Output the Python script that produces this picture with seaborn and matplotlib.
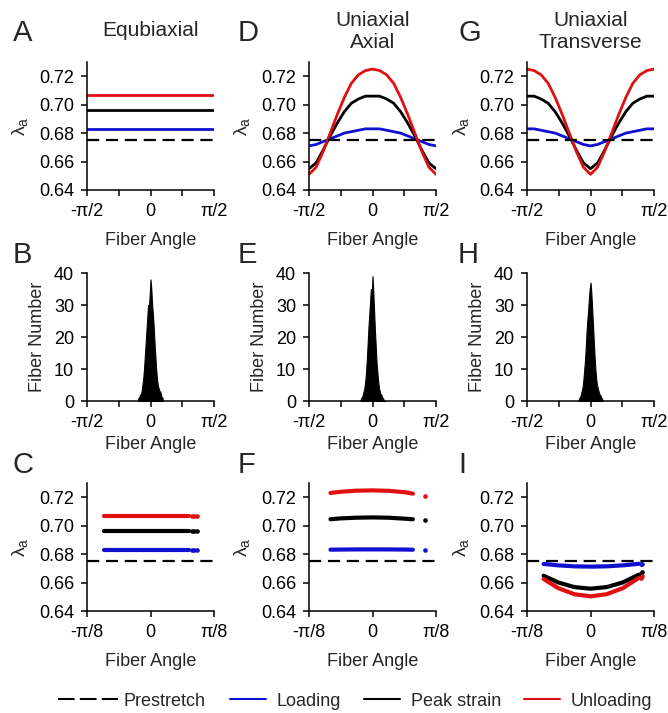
import numpy as np
import pandas as pd
import matplotlib
matplotlib.use('Agg')
import matplotlib.pyplot as plt
from matplotlib.lines import Line2D
import seaborn as sns

# ---- data ----
# row 1: fiber stretch vs fiber angle (degrees)
angle_deg = [-90, -80, -70, -60, -50, -40, -30, -20, -10, 0,
             10, 20, 30, 40, 50, 60, 70, 80, 90]

prestretch = 0.675

# A: equibiaxial (constant)
eq_loading = 0.683
eq_peak = 0.696
eq_unloading = 0.707

# D: uniaxial axial
ax_loading = [0.671, 0.672, 0.674, 0.676, 0.678, 0.680, 0.681, 0.682, 0.683, 0.683,
              0.683, 0.682, 0.681, 0.680, 0.678, 0.676, 0.674, 0.672, 0.671]
ax_peak = [0.655, 0.659, 0.668, 0.678, 0.687, 0.695, 0.701, 0.704, 0.706, 0.706,
           0.706, 0.704, 0.701, 0.695, 0.687, 0.678, 0.668, 0.659, 0.655]
ax_unloading = [0.651, 0.656, 0.667, 0.680, 0.693, 0.705, 0.715, 0.721, 0.724, 0.725,
                0.724, 0.721, 0.715, 0.705, 0.693, 0.680, 0.667, 0.656, 0.651]

# G: uniaxial transverse
tr_loading = [0.683, 0.683, 0.682, 0.681, 0.680, 0.678, 0.676, 0.674, 0.672, 0.671,
              0.672, 0.674, 0.676, 0.678, 0.680, 0.681, 0.682, 0.683, 0.683]
tr_peak = [0.706, 0.706, 0.704, 0.701, 0.695, 0.687, 0.678, 0.668, 0.659, 0.655,
           0.659, 0.668, 0.678, 0.687, 0.695, 0.701, 0.704, 0.706, 0.706]
tr_unloading = [0.725, 0.724, 0.721, 0.715, 0.705, 0.693, 0.680, 0.667, 0.656, 0.651,
                0.656, 0.667, 0.680, 0.693, 0.705, 0.715, 0.721, 0.724, 0.725]

# row 2: fiber angle histograms (bin centres in rad, counts)
fiber_bins = [-0.30, -0.28, -0.26, -0.24, -0.22, -0.20, -0.18, -0.16, -0.14, -0.12,
              -0.10, -0.08, -0.06, -0.04, -0.02, 0.00, 0.02, 0.04, 0.06, 0.08,
              0.10, 0.12, 0.14, 0.16, 0.18, 0.20, 0.22, 0.24, 0.26, 0.28, 0.30]
counts_b = [1, 1, 2, 2, 3, 5, 7, 10, 14, 18, 22, 26, 30, 29, 33, 38,
            35, 30, 27, 23, 18, 14, 10, 7, 5, 4, 3, 3, 2, 1, 1]
counts_e = [0, 1, 1, 2, 3, 4, 6, 9, 13, 18, 23, 27, 31, 35, 33, 39,
            34, 28, 22, 17, 12, 9, 6, 4, 3, 2, 2, 1, 1, 0, 0]
counts_h = [0, 1, 1, 2, 3, 4, 6, 9, 12, 16, 21, 25, 28, 32, 35, 37,
            34, 29, 24, 19, 14, 10, 7, 5, 4, 3, 2, 2, 1, 1, 0]

# row 3: stretch of the actual fibers (angle in rad)
c_angle = [-0.29, -0.20, -0.10, 0.00, 0.10, 0.20, 0.24]
c_tail = [0.258, 0.272, 0.286]
f_angle = [-0.26, -0.20, -0.10, 0.00, 0.10, 0.20, 0.25]
f_tail = [0.327]
f_loading = [0.6831, 0.6832, 0.6833, 0.6833, 0.6833, 0.6832, 0.6831]
f_peak = [0.7045, 0.7051, 0.7056, 0.7058, 0.7056, 0.7049, 0.7045]
f_unloading = [0.7230, 0.7238, 0.7246, 0.7248, 0.7245, 0.7235, 0.7225]
f_tail_vals = [0.6826, 0.7038, 0.7207]
i_angle = [-0.29, -0.20, -0.10, 0.00, 0.10, 0.20, 0.30]
i_tail = [0.315, 0.318]
i_loading = [0.6731, 0.6721, 0.6714, 0.6712, 0.6714, 0.6721, 0.6732]
i_peak = [0.6648, 0.6601, 0.6568, 0.6557, 0.6568, 0.6601, 0.6656]
i_unloading = [0.6625, 0.6561, 0.6518, 0.6503, 0.6518, 0.6561, 0.6633]
i_tail_loading = [0.6732, 0.6733]
i_tail_peak = [0.6660, 0.6672]
i_tail_unloading = [0.6632, 0.6645]

titles = ['Equbiaxial', 'Uniaxial\nAxial', 'Uniaxial\nTransverse']
letters = [['A', 'B', 'C'], ['D', 'E', 'F'], ['G', 'H', 'I']]
BLUE, BLACK, RED = '#1010d0', 'black', '#e01010'

sns.set_style('ticks')
plt.rcParams['font.family'] = ['Liberation Sans', 'DejaVu Sans']
plt.rcParams['mathtext.fontset'] = 'custom'
plt.rcParams['mathtext.rm'] = 'Liberation Sans'
plt.rcParams['mathtext.it'] = 'Liberation Sans:italic'

fig = plt.figure(figsize=(6.68, 7.13), dpi=100)

col_x = [87, 309, 527]
row_top = [62, 273, 483]
W, H = 127, 128


def add_ax(r, c):
    return fig.add_axes([col_x[c] / 668, 1 - (row_top[r] + H) / 713, W / 668, H / 713])


def style(ax, row):
    sns.despine(ax=ax)
    for s in ['left', 'bottom']:
        ax.spines[s].set_linewidth(1.1)
        ax.spines[s].set_color('black')
    ax.tick_params(axis='both', direction='out', length=4.3, width=1.1,
                   labelsize=13, color='black', labelcolor='black')
    ax.tick_params(axis='x', pad=5)
    ax.tick_params(axis='y', pad=5)
    if row < 2:
        ax.set_xlim(-np.pi / 2, np.pi / 2)
        ax.set_xticks([-np.pi / 2, -np.pi / 4, 0, np.pi / 4, np.pi / 2])
        ax.set_xticklabels(['-π/2', '', '0', '', 'π/2'])
    else:
        ax.set_xlim(-np.pi / 8, np.pi / 8)
        ax.set_xticks([-np.pi / 8, 0, np.pi / 8])
        ax.set_xticklabels(['-π/8', '0', 'π/8'])
    if row == 1:
        ax.set_ylim(0, 40)
        ax.set_yticks([0, 10, 20, 30, 40])
        ax.set_ylabel('Fiber Number', fontsize=13, labelpad=6)
        ax.set_xlabel('Fiber Angle', fontsize=13, labelpad=4)
    else:
        ax.set_ylim(0.64, 0.73)
        ax.set_yticks([0.64, 0.66, 0.68, 0.70, 0.72])
        ax.set_yticklabels(['0.64', '0.66', '0.68', '0.70', '0.72'])
        ax.set_ylabel(r'$\mathregular{\lambda_a}$', fontsize=14, labelpad=6)
        ax.set_xlabel('Fiber Angle', fontsize=13, labelpad=9)


theta = np.deg2rad(angle_deg)
dash = (0, (5.5, 3))

# ---- row 1 ----
row1 = [None,
        (ax_loading, ax_peak, ax_unloading),
        (tr_loading, tr_peak, tr_unloading)]
for c in range(3):
    ax = add_ax(0, c)
    if c == 0:
        ax.axhline(eq_loading, color=BLUE, lw=2)
        ax.axhline(eq_peak, color=BLACK, lw=2)
        ax.axhline(eq_unloading, color=RED, lw=2)
    else:
        for vals, col in zip(row1[c], [BLUE, BLACK, RED]):
            sns.lineplot(x=theta, y=vals, color=col, lw=2, ax=ax)
    ax.axhline(prestretch, color='black', lw=1.6, linestyle=dash)
    style(ax, 0)
    ax.text(0.5, 1 + (62 - 31) / H, titles[c], transform=ax.transAxes,
            ha='center', va='center', fontsize=15, linespacing=1.2)

# ---- row 2 ----
edges = [b - 0.01 for b in fiber_bins] + [fiber_bins[-1] + 0.01]
for c, counts in enumerate([counts_b, counts_e, counts_h]):
    ax = add_ax(1, c)
    hist_df = pd.DataFrame({'angle': fiber_bins, 'count': counts})
    sns.histplot(data=hist_df, x='angle', weights='count', bins=edges,
                 element='poly', fill=True, color='black', alpha=1,
                 edgecolor='black', linewidth=0.8, ax=ax)
    style(ax, 1)

# ---- row 3 ----
band = dict(lw=3, solid_capstyle='round')
ax = add_ax(2, 0)
for v, col in zip([eq_loading, eq_peak, eq_unloading], [BLUE, BLACK, RED]):
    sns.lineplot(x=c_angle, y=[v] * len(c_angle), color=col, ax=ax, **band)
    sns.scatterplot(x=c_tail, y=[v] * len(c_tail), color=col, s=11,
                    linewidth=0, ax=ax)
ax.axhline(prestretch, color='black', lw=1.6, linestyle=dash)
style(ax, 2)

ax = add_ax(2, 1)
for vals, tv, col in zip([f_loading, f_peak, f_unloading], f_tail_vals,
                         [BLUE, BLACK, RED]):
    sns.lineplot(x=f_angle, y=vals, color=col, ax=ax, **band)
    sns.scatterplot(x=f_tail, y=[tv], color=col, s=11, linewidth=0, ax=ax)
ax.axhline(prestretch, color='black', lw=1.6, linestyle=dash)
style(ax, 2)

ax = add_ax(2, 2)
for vals, tv, col in zip([i_loading, i_peak, i_unloading],
                         [i_tail_loading, i_tail_peak, i_tail_unloading],
                         [BLUE, BLACK, RED]):
    sns.lineplot(x=i_angle, y=vals, color=col, ax=ax, **band)
    sns.scatterplot(x=i_tail, y=tv, color=col, s=11, linewidth=0, ax=ax)
ax.axhline(prestretch, color='black', lw=1.6, linestyle=dash)
style(ax, 2)

# ---- panel letters ----
letter_x = [13, 238, 458]
letter_y = [33, 255, 465]
for c in range(3):
    for r in range(3):
        fig.text(letter_x[c] / 668, 1 - letter_y[r] / 713, letters[c][r],
                 fontsize=21, ha='left', va='center')

# ---- legend ----
leg_y = 1 - 701 / 713
fig.legend(handles=[Line2D([], [], color='black', lw=1.5, dashes=(8, 2.5))],
           labels=['Prestretch'], loc='center left',
           bbox_to_anchor=(58 / 668, leg_y), frameon=False, fontsize=13,
           handlelength=3.3, handletextpad=0.35, borderpad=0, borderaxespad=0)
fig.legend(handles=[Line2D([], [], color=BLUE, lw=1.5),
                    Line2D([], [], color=BLACK, lw=1.5),
                    Line2D([], [], color=RED, lw=1.5)],
           labels=['Loading', 'Peak strain', 'Unloading'], loc='center left',
           bbox_to_anchor=(230 / 668, leg_y), frameon=False, fontsize=13, ncol=3,
           handlelength=2.0, handletextpad=0.6, columnspacing=1.25,
           borderpad=0, borderaxespad=0)

fig.savefig('out.png', dpi=100)
